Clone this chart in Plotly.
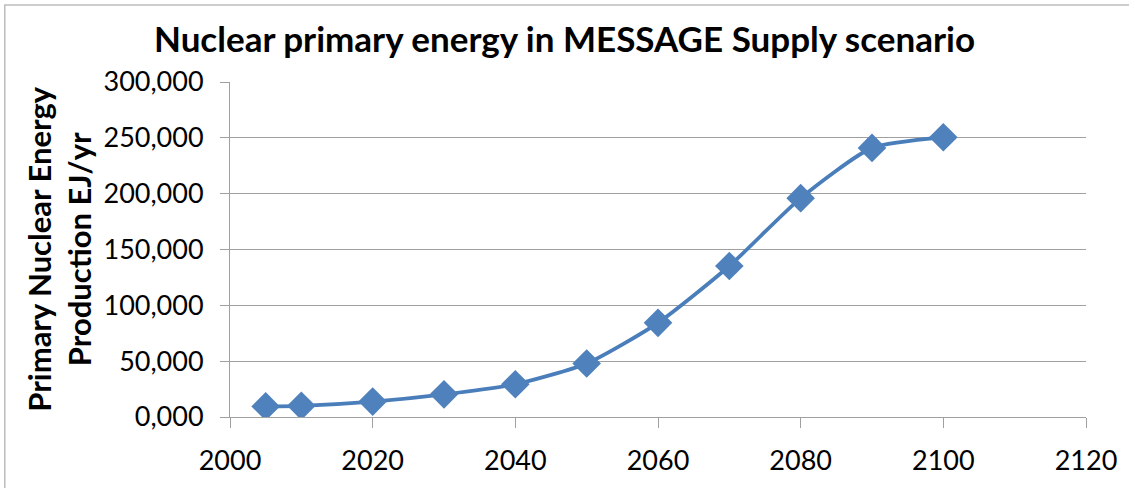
import plotly.graph_objects as go

# Nuclear primary energy, MESSAGE Supply scenario
years = [2005, 2010, 2020, 2030, 2040, 2050, 2060, 2070, 2080, 2090, 2100]
energy_ej = [9.5, 10.0, 13.8, 20.3, 29.3, 47.9, 84.3, 135.2, 196.0, 241.0, 250.5]

x_ticks = [2000, 2020, 2040, 2060, 2080, 2100, 2120]
y_ticks = [0, 50, 100, 150, 200, 250, 300]

FONT = "Lato"
W, H = 1129, 488
L, R, T, B = 230, 42, 82, 69
pw, ph = W - L - R, H - T - B


def px_x(p):
    """pixel x -> paper x"""
    return (p - L) / pw


def px_y(p):
    """pixel y (from top) -> paper y"""
    return (H - B - p) / ph


fig = go.Figure()
fig.add_trace(go.Scatter(
    x=years, y=energy_ej, mode="lines+markers",
    line=dict(color="#4A7EBB", width=3.8, shape="spline", smoothing=0.6),
    marker=dict(symbol="diamond", size=22, color="#4F81BD",
                line=dict(width=0)),
    showlegend=False,
))

# outer chart frame (right/bottom edges fall outside the picture)
fig.add_shape(type="rect", xref="paper", yref="paper",
              x0=px_x(4.5), x1=px_x(1140), y0=px_y(500), y1=px_y(4.5),
              line=dict(color="#BDBDBD", width=1.5), layer="below")

fig.add_annotation(
    text="Primary Nuclear Energy<br>Production EJ/yr",
    xref="paper", yref="paper", x=px_x(58), y=0.5,
    xanchor="center", yanchor="middle", textangle=-90, showarrow=False,
    font=dict(family=FONT, size=31, color="black", weight="bold"),
)

fig.update_layout(
    title=dict(text="<b>Nuclear primary energy in MESSAGE Supply scenario</b>",
               x=0.5, xref="container", xanchor="center",
               y=1 - 40 / H, yref="container", yanchor="middle",
               font=dict(family=FONT, size=35, color="black")),
    separators=",.",
    width=W, height=H,
    margin=dict(l=L, r=R, t=T, b=B, pad=0),
    paper_bgcolor="white", plot_bgcolor="white",
    font=dict(family=FONT, color="black"),
)
fig.update_xaxes(
    range=[2000, 2120], tickvals=x_ticks, showgrid=False,
    showline=True, linecolor="#A0A0A0", linewidth=1,
    ticks="outside", ticklen=10, tickcolor="#A0A0A0",
    tickfont=dict(family=FONT, size=27, color="black"),
    ticklabelstandoff=10, zeroline=False,
)
fig.update_yaxes(
    range=[0, 300], tickvals=y_ticks, tickformat=".3f",
    showgrid=True, gridcolor="#A0A0A0", gridwidth=1,
    showline=True, linecolor="#A0A0A0", linewidth=1,
    ticks="outside", ticklen=9, tickcolor="#A0A0A0",
    tickfont=dict(family=FONT, size=27, color="black"),
    ticklabelstandoff=11, zeroline=False,
)

fig.write_html("out.html", config={"displayModeBar": False},
               post_script="document.body.style.margin='0';")
